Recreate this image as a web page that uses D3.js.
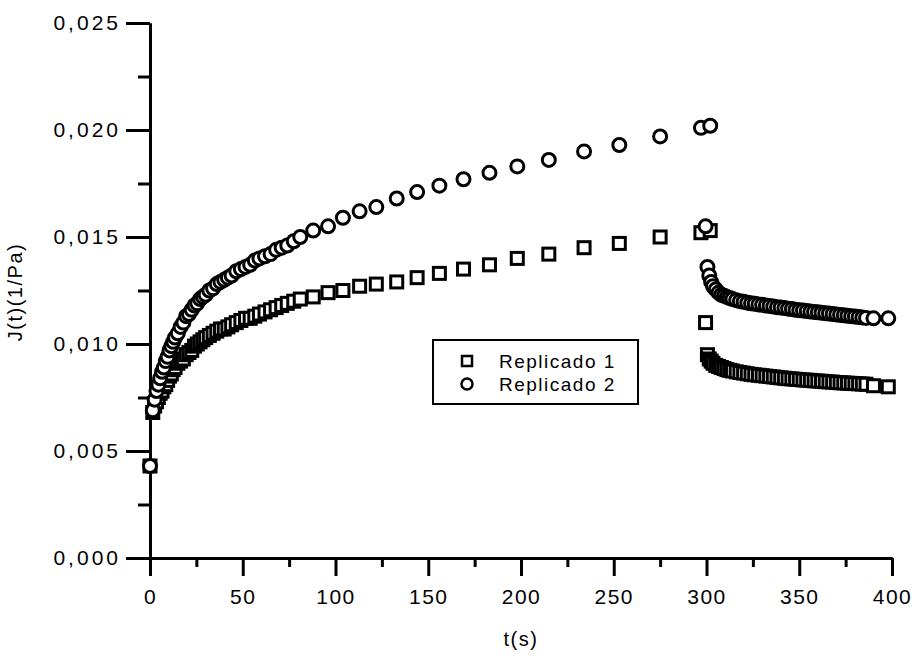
<!DOCTYPE html>
<meta charset="utf-8">
<style>
body { margin: 0; background: #fff; }
svg { font-family: Arial, "Liberation Sans", sans-serif; }
.axis path, .axis line { fill: none; stroke: #000; stroke-width: 3px; }
.axis text { font-size: 21px; fill: #000; letter-spacing: 1.5px; }
.y.axis text { letter-spacing: 3px; }
.mark { fill: #fff; stroke: #000; stroke-width: 3px; }
.title { font-size: 20px; fill: #000; letter-spacing: 1.5px; }
.legend text { font-size: 19px; fill: #000; letter-spacing: 1.5px; }
.legend .mark { stroke-width: 2.5px; }
</style>
<body>
<div id="chart"></div>
</body>
<script src="https://cdnjs.cloudflare.com/ajax/libs/d3/7.8.5/d3.min.js"></script>
<script>

// creep part (stress applied), same time grid for both replicates
var creepTime = [0, 1.5, 2.5, 3.5, 4.5, 5.5, 6.5, 7.5, 8.5, 9.5, 10.5, 11.5, 12.5, 13.5,
  15, 16.5, 18, 19.5, 21, 22.5, 24, 25.5, 27, 28.5, 30, 32, 34, 36, 38, 40, 42, 44,
  46.5, 49, 51.5, 54, 56.5, 59, 62, 65, 68, 71, 74, 77.5, 81, 88, 96, 104, 113, 122,
  133, 144, 156, 169, 183, 198, 215, 234, 253, 275, 297, 302];
var rep1Creep = [0.0043, 0.0068, 0.0071, 0.0073, 0.0075, 0.0077, 0.0078, 0.0080, 0.0081,
  0.0083, 0.0085, 0.0086, 0.0088, 0.0089, 0.0091, 0.0092, 0.0093, 0.0095, 0.0096,
  0.0097, 0.0099, 0.0100, 0.0101, 0.0102, 0.0103, 0.0104, 0.0105, 0.0106, 0.0107,
  0.0107, 0.0108, 0.0109, 0.0110, 0.0111, 0.0112, 0.0112, 0.0113, 0.0114, 0.0115,
  0.0116, 0.0117, 0.0118, 0.0119, 0.0120, 0.0121, 0.0122, 0.0124, 0.0125, 0.0127,
  0.0128, 0.0129, 0.0131, 0.0133, 0.0135, 0.0137, 0.0140, 0.0142, 0.0145, 0.0147,
  0.0150, 0.0152, 0.0153];
var rep2Creep = [0.0043, 0.0069, 0.0074, 0.0078, 0.0081, 0.0084, 0.0087, 0.0089, 0.0092,
  0.0094, 0.0097, 0.0099, 0.0101, 0.0103, 0.0105, 0.0108, 0.0110, 0.0113, 0.0114,
  0.0116, 0.0118, 0.0119, 0.0121, 0.0122, 0.0123, 0.0125, 0.0126, 0.0128, 0.0129,
  0.0130, 0.0131, 0.0132, 0.0134, 0.0135, 0.0136, 0.0137, 0.0139, 0.0140, 0.0141,
  0.0142, 0.0144, 0.0145, 0.0146, 0.0148, 0.0150, 0.0153, 0.0155, 0.0159, 0.0162,
  0.0164, 0.0168, 0.0171, 0.0174, 0.0177, 0.0180, 0.0183, 0.0186, 0.0190, 0.0193,
  0.0197, 0.0201, 0.0202];

// recovery part (stress removed at 300 s)
var recTime = [299.5, 300.5, 301.5, 302.5, 303.5, 305, 306.5, 308, 309.5, 311, 312.5,
  314, 316, 318, 320, 322, 324, 326, 328, 330, 332, 334, 336, 338, 340, 342, 344,
  346, 348, 350, 352, 354, 356, 358, 360, 362, 364, 366, 368, 370, 372, 374, 376,
  378, 380, 382, 384, 386, 390, 398];
var rep1Rec = [0.0110, 0.0095, 0.0093, 0.0092, 0.0091, 0.0090, 0.00895, 0.0089, 0.00885,
  0.0088, 0.00877, 0.00874, 0.0087, 0.00867, 0.00864, 0.00861, 0.00858, 0.00856,
  0.00854, 0.00852, 0.0085, 0.00848, 0.00846, 0.00844, 0.00842, 0.0084, 0.00838,
  0.00837, 0.00835, 0.00834, 0.00832, 0.00831, 0.0083, 0.00828, 0.00827, 0.00826,
  0.00824, 0.00823, 0.00822, 0.0082, 0.00819, 0.00818, 0.00817, 0.00816, 0.00815,
  0.00814, 0.00813, 0.00812, 0.00805, 0.0080];
var rep2Rec = [0.0155, 0.0136, 0.0132, 0.0129, 0.0127, 0.01255, 0.0124, 0.0123, 0.01225,
  0.0122, 0.01215, 0.0121, 0.01205, 0.0120, 0.01197, 0.01193, 0.0119, 0.01188,
  0.01185, 0.01183, 0.0118, 0.01178, 0.01175, 0.01172, 0.0117, 0.01168, 0.01165,
  0.01163, 0.0116, 0.01158, 0.01156, 0.01154, 0.01152, 0.0115, 0.01148, 0.01146,
  0.01144, 0.01142, 0.0114, 0.01138, 0.01136, 0.01134, 0.01132, 0.0113, 0.01128,
  0.01126, 0.01124, 0.01122, 0.0112, 0.0112];

var xMajor = [0, 50, 100, 150, 200, 250, 300, 350, 400];
var xMinor = [25, 75, 125, 175, 225, 275, 325, 375];
var yMajor = [0, 0.005, 0.010, 0.015, 0.020, 0.025];
var yMinor = [0.0025, 0.0075, 0.0125, 0.0175, 0.0225];
var seriesNames = ["Replicado 1", "Replicado 2"];

var width = 912, height = 657;

var x = d3.scaleLinear().domain([0, 400]).range([150, 892]),
    y = d3.scaleLinear().domain([0, 0.025]).range([558, 23]);

var comma = d3.formatLocale({decimal: ",", thousands: ".", grouping: [3], currency: ["", ""]});
var yFmt = comma.format(".3f");

function pts(times, vals) {
  return times.map(function(t, i) { return {t: t, j: vals[i]}; });
}
var rep1 = pts(creepTime, rep1Creep).concat(pts(recTime, rep1Rec));
var rep2 = pts(creepTime, rep2Creep).concat(pts(recTime, rep2Rec));

var svg = d3.select("#chart").append("svg")
    .attr("width", width)
    .attr("height", height);

// minor ticks first, then the major axes over them
svg.append("g")
    .attr("class", "axis")
    .attr("transform", "translate(0," + y(0) + ")")
    .call(d3.axisBottom(x).tickValues(xMinor).tickSize(9).tickSizeOuter(0).tickFormat(""));
svg.append("g")
    .attr("class", "axis")
    .attr("transform", "translate(" + x(0) + ",0)")
    .call(d3.axisLeft(y).tickValues(yMinor).tickSize(12).tickSizeOuter(0).tickFormat(""));

svg.append("g")
    .attr("class", "x axis")
    .attr("transform", "translate(0," + y(0) + ")")
    .call(d3.axisBottom(x).tickValues(xMajor).tickSize(18).tickSizeOuter(0).tickPadding(13));

svg.append("g")
    .attr("class", "y axis")
    .attr("transform", "translate(" + x(0) + ",0)")
    .call(d3.axisLeft(y).tickValues(yMajor).tickSize(24).tickSizeOuter(0).tickPadding(5).tickFormat(yFmt));

// axis titles
svg.append("text")
    .attr("class", "title")
    .attr("text-anchor", "middle")
    .attr("x", 521)
    .attr("y", 646)
    .text("t(s)");

svg.append("text")
    .attr("class", "title")
    .attr("text-anchor", "middle")
    .attr("transform", "translate(22,292) rotate(-90)")
    .text("J(t)(1/Pa)");

// Replicado 1: squares
svg.append("g").selectAll("rect")
    .data(rep1)
  .enter().append("rect")
    .attr("class", "mark")
    .attr("x", function(d) { return x(d.t) - 6; })
    .attr("y", function(d) { return y(d.j) - 6; })
    .attr("width", 12)
    .attr("height", 12);

// Replicado 2: circles
svg.append("g").selectAll("circle")
    .data(rep2)
  .enter().append("circle")
    .attr("class", "mark")
    .attr("cx", function(d) { return x(d.t); })
    .attr("cy", function(d) { return y(d.j); })
    .attr("r", 6.5);

// legend
var legend = svg.append("g")
    .attr("class", "legend")
    .attr("transform", "translate(433,340)");

legend.append("rect")
    .attr("width", 205)
    .attr("height", 64)
    .style("fill", "none")
    .style("stroke", "#000")
    .style("stroke-width", 2);

var item = legend.selectAll("g.item")
    .data(seriesNames)
  .enter().append("g")
    .attr("class", "item")
    .attr("transform", function(d, i) { return "translate(0," + (21 + i * 23) + ")"; });

item.filter(function(d, i) { return i == 0; }).append("rect")
    .attr("class", "mark")
    .attr("x", 29)
    .attr("y", -5)
    .attr("width", 10)
    .attr("height", 10);

item.filter(function(d, i) { return i == 1; }).append("circle")
    .attr("class", "mark")
    .attr("cx", 34)
    .attr("r", 5.5);

item.append("text")
    .attr("x", 66)
    .attr("dy", "0.35em")
    .text(function(d) { return d; });

</script>
